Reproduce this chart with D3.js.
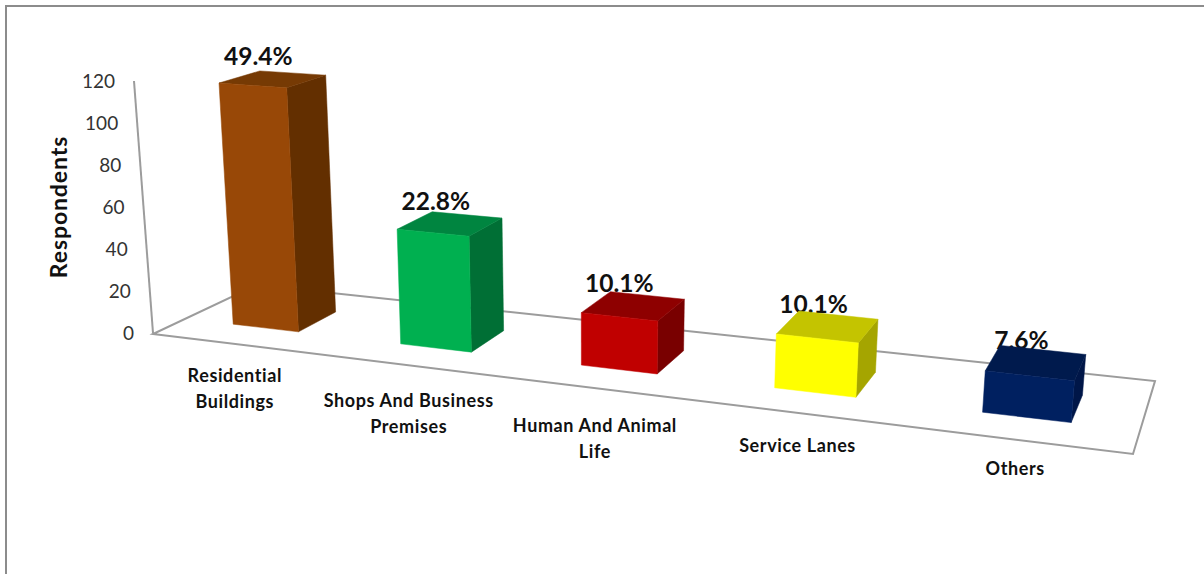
<!DOCTYPE html>
<html>
<head>
<meta charset="utf-8">
<script src="https://cdn.jsdelivr.net/npm/d3@7"></script>
<style>
html,body{margin:0;padding:0;background:#fff;}
svg{display:block;}
text{font-family:Lato,"Open Sans",sans-serif;fill:#111;}
</style>
</head>
<body>
<svg id="chart" width="1204" height="574"></svg>
<script>
// ---- data ----
const categories = ["Residential Buildings","Shops And Business Premises","Human And Animal Life","Service Lanes","Others"];
const respondents = [117,54,24,24,18];
const percentLabels = ["49.4%","22.8%","10.1%","10.1%","7.6%"];
const yTicks = [0,20,40,60,80,100,120];
const categoryLines = [["Residential","Buildings"],["Shops And Business","Premises"],["Human And Animal","Life"],["Service Lanes"],["Others"]];
// ---- styles ----
const frontColors = ["#984807","#00B050","#C00000","#FFFF00","#002060"];
const topColors   = ["#763A04","#008540","#8E0000","#C4C400","#001A4D"];
const sideColors  = ["#632F00","#006F35","#790000","#A5A500","#001648"];
const labelNudgeX = [-3,1,2,2,-3];
const labelNudgeY = [-1,3,5,1,-4];

const W = 1204, H = 574;
const svg = d3.select("#chart");

// floor quad in screen px: front-left, front-right, back-right, back-left
const floorQuad = [[153,334],[1133,454],[1155,381],[257,285]];
// unit square -> quad homography
const [[x0,y0],[x1,y1],[x2,y2],[x3,y3]] = floorQuad;
const dx1=x1-x2, dx2=x3-x2, sx=x0-x1+x2-x3, dy1=y1-y2, dy2=y3-y2, sy=y0-y1+y2-y3;
const det=dx1*dy2-dx2*dy1;
const g=(sx*dy2-dx2*sy)/det, h=(dx1*sy-sx*dy1)/det;
const a=x1-x0+g*x1, b=x3-x0+h*x3, d=y1-y0+g*y1, e=y3-y0+h*y3;
function floor(u,w){
  const q=g*u+h*w+1;
  return [(a*u+b*w+x0)/q,(d*u+e*w+y0)/q];
}
// value (respondents) -> screen height at floor position
const uGain = d3.scaleLinear().domain([0,1]).range([2.09,2.39]);
const wLoss = d3.scaleLinear().domain([0,1]).range([0,0.16]);
const leanAt = d3.scaleLinear().domain([590,1590]).range([0,0.165]);
function project(u,w,v){
  const p=floor(u,w);
  const px=v*(uGain(u)-wLoss(w));
  return [p[0]+leanAt(p[0])*px, p[1]-px];
}
const xBand = d3.scaleBand().domain(categories).range([0,1]).paddingInner(0.6).paddingOuter(0.3);
// calibrates band positions along the floor's long edge
const warp = d3.scaleLinear().domain([0,0.1,0.3,0.5,0.7,0.9,1]).range([0,0.102,0.3067,0.509,0.707,0.902,1]);
const depth = [0.295,0.68];

// frame
const frame = svg.append("g").attr("stroke","#8c8c8c").attr("stroke-width",2).attr("fill","none");
frame.append("path").attr("d",`M6,${H}V6H${W}`);

// floor + value axis
const lineCol="#9c9c9c";
svg.append("path").attr("d",d3.line()(floorQuad)+"Z").attr("fill","none").attr("stroke",lineCol).attr("stroke-width",2);
const yScale = d3.scaleLinear().domain([0,120]).range([333,81]);
const axisX = d3.scaleLinear().domain([0,120]).range([153,134]);
svg.append("line").attr("x1",axisX(0)).attr("y1",yScale(0)).attr("x2",axisX(120)).attr("y2",yScale(120))
  .attr("stroke",lineCol).attr("stroke-width",2);
svg.selectAll(".ytick").data(yTicks).join("text").attr("class","ytick")
  .attr("x",t=>axisX(t)-19).attr("y",t=>yScale(t)).attr("dy","0.35em")
  .attr("text-anchor","end").attr("font-size",19).style("fill","#333").text(t=>t);
svg.append("text").attr("transform","translate(67,207) rotate(-90)")
  .attr("text-anchor","middle").attr("font-size",23).attr("font-weight",700).style("letter-spacing","0.9px").text("Respondents");

// value labels (beneath the bars, which overlap them)
const poly = pts => "M"+pts.map(p=>p.join(",")).join("L")+"Z";
const bandMid = c => warp(xBand(c)+xBand.bandwidth()/2);
svg.selectAll(".pct").data(categories).join("text").attr("class","pct")
  .attr("x",(c,i)=>project(bandMid(c),(depth[0]+depth[1])/2,respondents[i])[0]-14.5)
  .attr("y",(c,i)=>project(bandMid(c),(depth[0]+depth[1])/2,respondents[i])[1]-22.5)
  .attr("dy","0.35em").attr("text-anchor","middle").attr("font-size",24.5).attr("font-weight",700)
  .text((c,i)=>percentLabels[i]);

// bars
categories.forEach((c,i)=>{
  const u0=warp(xBand(c)), u1=warp(xBand(c)+xBand.bandwidth()), v=respondents[i], [w0,w1]=depth;
  const gBar=svg.append("g");
  gBar.append("path").attr("fill",sideColors[i]).attr("stroke",sideColors[i]).attr("stroke-width",0.5)
    .attr("d",poly([project(u1,w0,0),project(u1,w1,0),project(u1,w1,v),project(u1,w0,v)]));
  gBar.append("path").attr("fill",topColors[i]).attr("stroke",topColors[i]).attr("stroke-width",0.5)
    .attr("d",poly([project(u0,w0,v),project(u1,w0,v),project(u1,w1,v),project(u0,w1,v)]));
  gBar.append("path").attr("fill",frontColors[i]).attr("stroke",frontColors[i]).attr("stroke-width",0.5)
    .attr("d",poly([project(u0,w0,0),project(u1,w0,0),project(u1,w0,v),project(u0,w0,v)]));
});

// category labels
categories.forEach((c,i)=>{
  const p=floor(xBand(c)+xBand.bandwidth()/2,0);
  const t=svg.append("text").attr("text-anchor","middle").attr("font-size",18).attr("font-weight",700).style("letter-spacing","0.6px");
  categoryLines[i].forEach((ln,k)=>{
    t.append("tspan").attr("x",p[0]+5+labelNudgeX[i]).attr("y",p[1]+33+labelNudgeY[i]+k*26).attr("dy","0.35em").text(ln);
  });
});
</script>
</body>
</html>
